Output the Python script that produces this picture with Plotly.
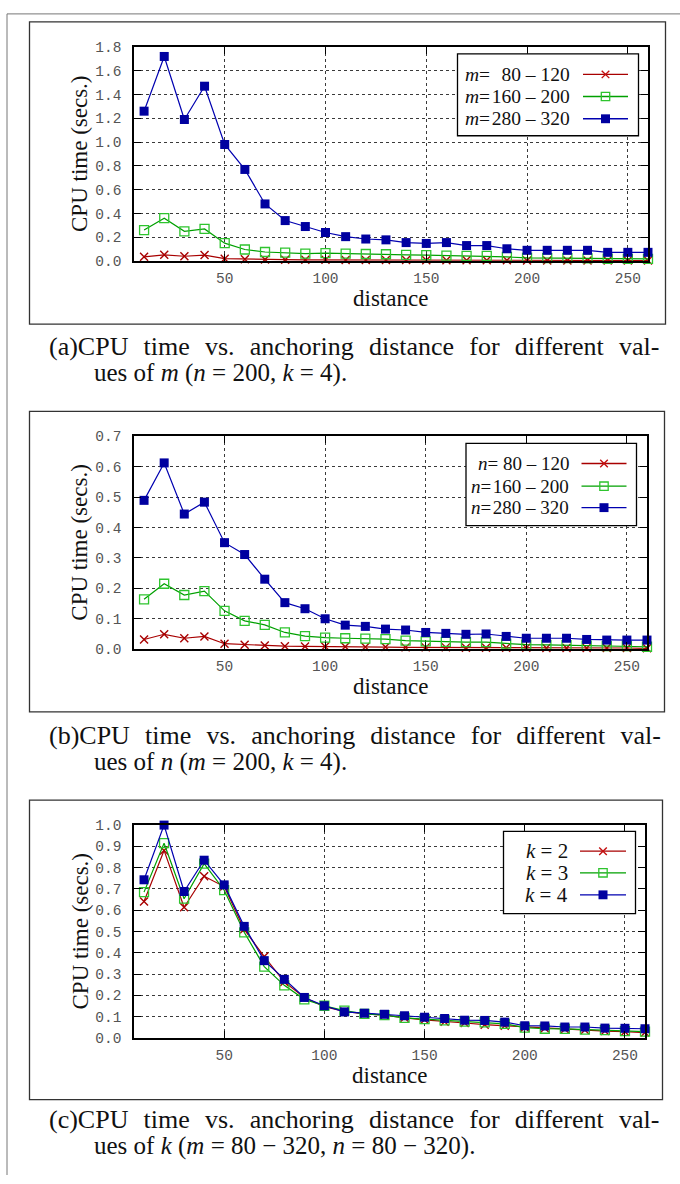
import plotly.graph_objects as go

W, H = 680, 1184

# ---------------------------------------------------------------- data
distance = [10, 20, 30, 40, 50, 60, 70, 80, 90, 100, 110, 120, 130,
            140, 150, 160, 170, 180, 190, 200, 210, 220, 230, 240, 250, 260]

# (a) varying m  (n = 200, k = 4)
cpu_m_080_120 = [0.035, 0.052, 0.040, 0.050, 0.020, 0.015, 0.012, 0.011, 0.010, 0.010,
                 0.009, 0.009, 0.008, 0.008, 0.007, 0.007, 0.006, 0.006, 0.006, 0.005,
                 0.005, 0.005, 0.005, 0.004, 0.004, 0.004]
cpu_m_160_200 = [0.26, 0.36, 0.25, 0.27, 0.15, 0.097, 0.076, 0.070, 0.063, 0.067,
                 0.062, 0.059, 0.057, 0.051, 0.050, 0.046, 0.043, 0.043, 0.034, 0.027,
                 0.025, 0.024, 0.023, 0.019, 0.018, 0.018]
cpu_m_280_320 = [1.26, 1.72, 1.19, 1.47, 0.98, 0.77, 0.48, 0.34, 0.29, 0.24,
                 0.205, 0.185, 0.178, 0.155, 0.148, 0.155, 0.130, 0.130, 0.103, 0.090,
                 0.090, 0.090, 0.090, 0.073, 0.073, 0.073]

# (b) varying n  (m = 200, k = 4)
cpu_n_080_120 = [0.032, 0.049, 0.036, 0.042, 0.018, 0.015, 0.012, 0.010, 0.009, 0.009,
                 0.008, 0.007, 0.007, 0.006, 0.006, 0.006, 0.005, 0.005, 0.005, 0.005,
                 0.004, 0.004, 0.004, 0.004, 0.004, 0.003]
cpu_n_160_200 = [0.164, 0.215, 0.178, 0.191, 0.126, 0.093, 0.080, 0.055, 0.043, 0.038,
                 0.036, 0.035, 0.033, 0.028, 0.026, 0.024, 0.023, 0.023, 0.018, 0.015,
                 0.014, 0.013, 0.012, 0.010, 0.010, 0.008]
cpu_n_280_320 = [0.489, 0.612, 0.444, 0.483, 0.350, 0.311, 0.230, 0.153, 0.133, 0.100,
                 0.079, 0.075, 0.066, 0.063, 0.055, 0.052, 0.049, 0.050, 0.042, 0.036,
                 0.036, 0.036, 0.032, 0.030, 0.030, 0.030]

# (c) varying k  (m = 80-320, n = 80-320)
cpu_k2 = [0.641, 0.881, 0.614, 0.760, 0.711, 0.510, 0.382, 0.263, 0.190, 0.147,
          0.124, 0.113, 0.107, 0.094, 0.085, 0.076, 0.070, 0.062, 0.057, 0.049,
          0.045, 0.040, 0.037, 0.032, 0.029, 0.025]
cpu_k3 = [0.685, 0.915, 0.654, 0.819, 0.694, 0.496, 0.335, 0.247, 0.181, 0.151,
          0.128, 0.113, 0.107, 0.094, 0.088, 0.082, 0.076, 0.073, 0.066, 0.048,
          0.043, 0.042, 0.039, 0.036, 0.032, 0.029]
cpu_k4 = [0.743, 1.000, 0.688, 0.835, 0.719, 0.524, 0.363, 0.275, 0.190, 0.151,
          0.122, 0.116, 0.111, 0.104, 0.097, 0.091, 0.083, 0.082, 0.074, 0.057,
          0.056, 0.051, 0.051, 0.046, 0.045, 0.043]

x_ticks = [50, 100, 150, 200, 250]

# key entries (italic variable name, value range)
legend_a = ["<i>m</i>=\u200a\u200780 – 120", "<i>m</i>=\u200a160 – 200", "<i>m</i>=\u200a280 – 320"]
legend_b = ["<i>n</i>= 80 – 120", "<i>n</i>=\u200a160 – 200", "<i>n</i>=\u200a280 – 320"]
legend_c = ["<i>k</i> = 2", "<i>k</i> = 3", "<i>k</i> = 4"]

# justified first caption line: widened inter-word gaps
GAP = "\u2002\u200a"
caption_a = [GAP.join(["(a)CPU", "time", "vs.", "anchoring", "distance", "for", "different", "val-"]),
             "ues of <i>m</i> (<i>n</i> = 200, <i>k</i> = 4)."]
caption_b = [GAP.join(["(b)CPU", "time", "vs.", "anchoring", "distance", "for", "different", "val-"]),
             "ues of <i>n</i> (<i>m</i> = 200, <i>k</i> = 4)."]
caption_c = [GAP.join(["(c)CPU", "time", "vs.", "anchoring", "distance", "for", "different", "val-"]),
             "ues of <i>k</i> (<i>m</i> = 80 − 320, <i>n</i> = 80 − 320)."]

# ---------------------------------------------------------------- styles
RED_LINE, RED_MARK = "#a80000", "#c41010"
GRN_LINE, GRN_MARK = "#00a000", "#2ec42e"
BLU_LINE, BLU_MARK = "#0000b0", "#0000a0"

series_styles = [
    dict(line=dict(color=RED_LINE, width=1.2),
         marker=dict(symbol="x-thin-open", size=8, line=dict(color=RED_MARK, width=1.4))),
    dict(line=dict(color=GRN_LINE, width=1.2),
         marker=dict(symbol="square-open", size=9, color=GRN_MARK, line=dict(color=GRN_MARK, width=1.3))),
    dict(line=dict(color=BLU_LINE, width=1.2),
         marker=dict(symbol="square", size=9, color=BLU_MARK, line=dict(width=0))),
]

SERIF = "Liberation Serif"
MONO = "Liberation Mono"


def px(x):
    return x / W


def py(y):
    return 1 - y / H


# plot-area geometry of each panel, in page pixels
panels = [
    dict(series=[cpu_m_080_120, cpu_m_160_200, cpu_m_280_320], yr=[0, 1.8], dt=0.2,
         left=134, right=648, top=40.5, bottom=257.5,
         box=(29.5, 15, 665.5, 321.5),
         legend=dict(box=(457.5, 47.5, 638.5, 130.5), rows=[68.3, 90.7, 113.3],
                     text_r=572, line=(583, 628), mark=605.5, labels=legend_a, size=19.5),
         caption=caption_a, cap_y=(344, 371)),
    dict(series=[cpu_n_080_120, cpu_n_160_200, cpu_n_280_320], yr=[0, 0.7], dt=0.1,
         left=134, right=647, top=435, bottom=651,
         box=(29.5, 410, 664.5, 714.5),
         legend=dict(box=(466, 442.3, 636.5, 525.7), rows=[462.7, 485.7, 507.5],
                     text_r=571, line=(581.5, 626.5), mark=604, labels=legend_b, size=19),
         caption=caption_b, cap_y=(738, 765)),
    dict(series=[cpu_k2, cpu_k3, cpu_k4], yr=[0, 1.0], dt=0.1,
         left=134, right=645, top=829.3, bottom=1045,
         box=(29.5, 804, 662.5, 1107.5),
         legend=dict(box=(503.5, 835.7, 635.5, 919), rows=[855.7, 877.7, 900],
                     text_r=570, line=(580, 626), mark=603, labels=legend_c, size=21),
         caption=caption_c, cap_y=(1128, 1155)),
]

fig = go.Figure()
shapes = []
annotations = []

for i, p in enumerate(panels):
    sfx = "" if i == 0 else str(i + 1)
    for vals, st in zip(p["series"], series_styles):
        fig.add_trace(go.Scatter(
            x=distance, y=vals, mode="lines+markers",
            line=st["line"], marker=st["marker"],
            xaxis="x" + sfx, yaxis="y" + sfx,
            cliponaxis=False, showlegend=False, hoverinfo="skip"))

    axis_common = dict(
        showline=True, linecolor="#000", linewidth=1.5, mirror="allticks",
        ticks="inside", ticklen=7, tickwidth=1, tickcolor="#000",
        showgrid=True, gridcolor="#3a3a3a", gridwidth=1, griddash="dot",
        zeroline=False, fixedrange=True,
        tickfont=dict(family=MONO, size=14.5, color="#555"),
    )
    fig.update_layout(**{
        "xaxis" + sfx: dict(axis_common, domain=[px(p["left"]), px(p["right"])],
                            range=[5, 260], tickvals=x_ticks, anchor="y" + sfx,
                            ticklabelstandoff=3),
        "yaxis" + sfx: dict(axis_common, domain=[py(p["bottom"]), py(p["top"])],
                            range=p["yr"], dtick=p["dt"], tick0=0, tickformat=".1f",
                            anchor="x" + sfx, ticklabelstandoff=8),
    })

    # frame around the panel
    bx0, by0, bx1, by1 = p["box"]
    shapes.append(dict(type="rect", xref="paper", yref="paper",
                       x0=px(bx0), x1=px(bx1), y0=py(by1), y1=py(by0),
                       line=dict(color="#333", width=1.3), layer="below"))

    # axis titles
    cx = (p["left"] + p["right"]) / 2
    cy = (p["top"] + p["bottom"]) / 2
    annotations.append(dict(xref="paper", yref="paper", x=px(cx), y=py(p["bottom"] + 38),
                            text="distance", showarrow=False, xanchor="center", yanchor="middle",
                            font=dict(family=SERIF, size=23, color="#111")))
    annotations.append(dict(xref="paper", yref="paper", x=px(80), y=py(cy),
                            text="CPU time (secs.)", textangle=-90, showarrow=False,
                            xanchor="center", yanchor="middle",
                            font=dict(family=SERIF, size=23, color="#111")))

    # key box
    L = p["legend"]
    lx0, ly0, lx1, ly1 = L["box"]
    shapes.append(dict(type="rect", xref="paper", yref="paper",
                       x0=px(lx0), x1=px(lx1), y0=py(ly1), y1=py(ly0),
                       fillcolor="white", line=dict(color="#000", width=1.3), layer="above"))
    for r, (ry, st) in enumerate(zip(L["rows"], series_styles)):
        s0, s1 = L["line"]
        shapes.append(dict(type="line", xref="paper", yref="paper",
                           x0=px(s0), x1=px(s1), y0=py(ry), y1=py(ry),
                           line=dict(color=st["line"]["color"], width=1.4), layer="above"))
        m = L["mark"]
        if r == 0:
            d = 3.8
            path = (f"M {px(m - d)} {py(ry - d)} L {px(m + d)} {py(ry + d)} "
                    f"M {px(m - d)} {py(ry + d)} L {px(m + d)} {py(ry - d)}")
            shapes.append(dict(type="path", xref="paper", yref="paper", path=path,
                               line=dict(color=RED_MARK, width=1.4), layer="above"))
        elif r == 1:
            d = 4.2
            shapes.append(dict(type="rect", xref="paper", yref="paper",
                               x0=px(m - d), x1=px(m + d), y0=py(ry + d), y1=py(ry - d),
                               line=dict(color=GRN_MARK, width=1.3), layer="above"))
        else:
            d = 4.5
            shapes.append(dict(type="rect", xref="paper", yref="paper",
                               x0=px(m - d), x1=px(m + d), y0=py(ry + d), y1=py(ry - d),
                               fillcolor=BLU_MARK, line=dict(width=0), layer="above"))
        annotations.append(dict(xref="paper", yref="paper", x=px(L["text_r"]), y=py(ry),
                                text=L["labels"][r], showarrow=False,
                                xanchor="right", yanchor="middle",
                                font=dict(family=SERIF, size=L["size"], color="#111")))

    # caption under the panel
    c1, c2 = p["caption"]
    y1, y2 = p["cap_y"]
    annotations.append(dict(xref="paper", yref="paper", x=px(47), y=py(y1), text=c1,
                            showarrow=False, xanchor="left", yanchor="middle",
                            font=dict(family=SERIF, size=26, color="#111")))
    annotations.append(dict(xref="paper", yref="paper", x=px(92), y=py(y2), text=c2,
                            showarrow=False, xanchor="left", yanchor="middle",
                            font=dict(family=SERIF, size=25, color="#111")))

# page edge lines (top and left)
shapes.append(dict(type="line", xref="paper", yref="paper", x0=px(7), x1=1, y0=py(7), y1=py(7),
                   line=dict(color="#777", width=1), layer="below"))
shapes.append(dict(type="line", xref="paper", yref="paper", x0=px(7), x1=px(7), y0=py(7), y1=0,
                   line=dict(color="#777", width=1), layer="below"))

fig.update_layout(
    width=W, height=H, autosize=False,
    margin=dict(l=0, r=0, t=0, b=0),
    paper_bgcolor="white", plot_bgcolor="rgba(0,0,0,0)",
    showlegend=False,
    shapes=shapes, annotations=annotations,
)

fig.write_html("out.html", config={"displayModeBar": False})
